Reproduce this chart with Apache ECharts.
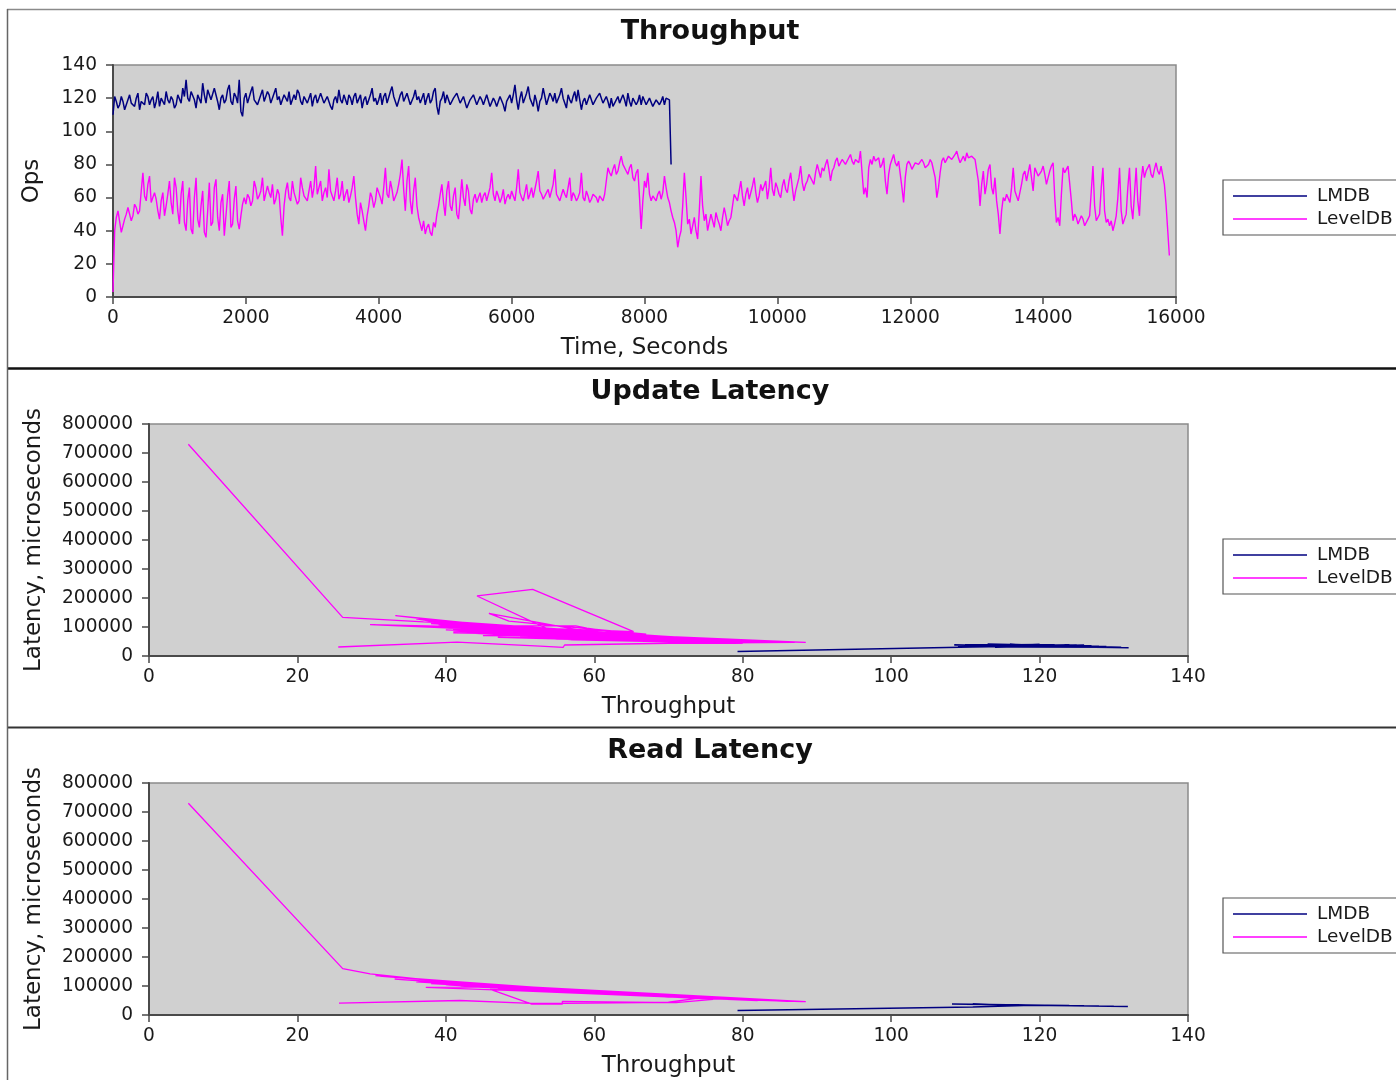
<!DOCTYPE html>
<html><head><meta charset="utf-8">
<script src="https://cdn.jsdelivr.net/npm/echarts@6/dist/echarts.min.js"></script>
<style>html,body{margin:0;padding:0;background:#fff;}#c{width:1396px;height:1080px;}</style>
</head><body><div id="c"></div>
<script>
// ---------- data ----------
const timeStep = 25; // seconds between throughput samples
const seriesNames = ['LMDB', 'LevelDB'];
const panelTitles = ['Throughput', 'Update Latency', 'Read Latency'];

// LMDB throughput (ops), t = 0 .. 8400 s
const lmdbOps = [
110,121,118,114,116,121,118,113,114,119,122,117,117,115,120,123,113,118,119,116,
123,121,116,119,121,114,118,124,115,120,120,116,124,119,117,121,119,114,116,122,
122,117,126,121,131,120,118,124,125,119,114,122,121,117,129,122,117,125,124,119,
120,126,127,118,113,120,122,117,119,125,128,118,116,123,121,117,131,112,109,120,
123,117,118,124,127,119,120,116,116,122,125,118,119,124,122,117,117,123,126,119,
121,116,115,122,120,118,124,116,117,122,119,125,123,118,116,121,121,117,118,123,
115,120,122,117,118,123,124,117,116,121,120,115,113,119,121,117,125,119,117,122,
119,116,122,120,116,121,123,117,118,122,114,119,121,116,117,122,126,118,120,116,
119,123,116,121,123,117,118,124,127,121,120,115,115,122,124,118,119,123,122,116,
117,121,125,119,121,117,118,123,116,120,123,117,119,124,126,115,110,118,120,124,
117,122,121,116,115,120,119,123,122,117,116,121,120,114,113,119,118,122,122,116,
115,121,119,116,117,122,121,115,114,120,118,115,116,121,120,116,112,118,119,122,
117,122,128,119,113,120,124,117,116,123,127,120,119,115,122,118,112,118,120,126,
125,116,117,123,121,118,123,117,116,122,126,120,119,114,122,119,117,121,124,118,
125,119,113,118,120,116,117,122,121,116,115,120,119,123,122,117,116,121,118,114,
120,115,114,119,121,117,117,122,119,115,123,118,115,120,120,116,118,122,116,121,
121,116,117,120,119,115,114,119,120,116,118,121,116,120,121,119,80
];

// LevelDB throughput (ops), t = 0 .. 15900 s
const leveldbOps = [
3,40,48,52,51,39,43,47,50,54,53,46,49,56,54,50,52,64,75,61,
58,68,73,57,60,63,59,52,47,58,63,49,55,62,70,57,50,72,66,52,
44,62,70,45,40,58,66,41,38,60,72,47,42,55,64,39,36,52,69,43,
45,66,71,48,40,57,62,37,38,61,70,42,44,59,67,46,41,49,56,60,
56,62,60,55,58,70,66,59,61,64,72,58,57,67,63,60,68,56,59,65,
62,48,37,55,64,69,60,58,70,63,62,56,58,72,66,61,61,58,64,70,
60,66,79,62,63,70,58,63,66,60,77,64,61,58,64,72,59,62,70,58,
62,65,57,61,66,73,60,50,44,57,52,46,40,49,55,63,60,54,58,66,
63,60,56,66,78,62,60,70,65,58,59,63,68,74,83,65,52,70,79,58,
50,64,72,55,48,44,40,46,38,42,44,39,37,45,42,50,55,62,68,57,
49,64,70,55,52,61,66,50,47,58,71,60,55,68,64,53,50,59,62,57,
60,63,57,61,63,58,59,66,75,62,58,64,61,57,60,65,56,60,62,59,
64,61,58,66,77,63,60,58,63,68,59,62,66,60,61,70,76,64,62,59,
58,63,65,60,60,68,77,62,63,58,59,65,62,60,66,72,58,63,61,58,
60,63,75,60,58,64,61,57,59,62,63,60,57,61,60,58,62,70,78,75,
73,77,80,74,76,81,85,80,79,76,74,78,80,72,70,75,77,60,41,58,
70,66,75,62,58,61,60,58,62,64,59,63,73,66,60,57,52,48,45,40,
30,36,40,55,75,60,44,47,38,43,48,40,35,52,73,55,46,50,40,45,
50,46,42,51,47,44,40,48,54,49,43,46,48,55,62,60,58,64,70,61,
55,62,66,59,60,67,72,63,57,61,68,64,63,70,59,66,78,65,61,69,
66,62,60,67,71,65,63,70,75,66,58,64,68,72,79,69,64,68,70,74,
73,70,68,75,80,76,72,78,76,80,83,77,70,76,78,82,84,79,80,83,
82,80,79,84,86,82,80,83,84,81,88,75,62,66,60,78,83,80,85,82,
81,84,78,80,84,70,62,74,80,83,86,81,79,82,83,66,57,72,80,82,
80,77,78,81,82,80,79,83,81,78,77,80,83,81,80,72,60,66,75,82,
84,81,82,85,86,83,83,86,88,84,81,83,85,82,87,84,83,85,86,83,
84,70,55,68,76,62,68,77,80,66,62,72,58,50,38,52,60,58,62,61,
57,66,78,64,61,58,59,68,74,76,70,75,80,72,64,78,77,73,72,76,
79,74,68,72,76,79,81,60,45,48,43,62,78,75,77,79,80,58,46,50,
48,44,45,49,47,43,44,47,49,64,79,55,46,48,50,66,78,52,45,47,
43,46,40,44,49,60,78,52,44,47,50,66,78,55,47,62,78,58,49,70,
79,72,76,78,80,74,72,77,81,76,74,79,80,68,56,56,25
];

// Update latency: [throughput, latency in microseconds], in time order
const updateLMDB = [
[110,36000],[124,33000],[112,38000],[128,31000],[115,35000],[120,40000],[109,37000],[126,34000],
[117,31000],[131,30000],[113,41000],[122,36000],[118,33000],[108.5,38000],[127,35000],[114,32000],
[121,39000],[125,31000],[111,34000],[129,33000],[116,40000],[123,32000],[119,36000],[130,29000],
[112,35000],[126,37000],[114,30000],[120,34000],[124,38000],[110,33000],[128,32000],[117,37000],
[122,30000],[115,39000],[132,28500],[113,36000],[119,31000],[125,35000],[118,38000],[111,39000],
[127,33000],[114,36000],[121,32000],[116,38000],[124,35000],[109,35000],[122,38000],[118,31000],
[126,32000],[113,34000],[129,31000],[115,37000],[123,36000],[112,33000],[120,37000],[117,34000],
[125,37000],[110,38000],[128,34000],[119,39000],[114,34000],[124,31000],[116,33000],[121,36000],
[113,38000],[123,34000],[117,39000],[127,32000],[112,37000],[120,33000],[115,33000],[125,33000],
[118,36000],[122,34000],[114,38000],[126,35000],[119,32000],[121,38000],[116,36000],[124,36000],
[111,31000],[111,27000],[79.3,15500]
];
const updateLevelDB = [
[5.3,730000],[26.1,133000],[37,118000],[45,108000],[40,96000],[52,92000],[38,112000],[60,82000],
[42,90000],[55,78000],[40,105000],[66,72000],[44,86000],[58,68000],[33.2,139000],[47,104000],
[62,76000],[41,80000],[70,66000],[46,96000],[39,120000],[64,70000],[43,99000],[53,84000],
[48,75000],[72,62000],[29.8,108000],[42,101000],[57,80000],[45,70000],[68,64000],[50,88000],
[40,112000],[61,72000],[44,94000],[76,58000],[49,82000],[56,66000],[41,117000],[59,85000],
[47,78000],[78,55000],[52,72000],[43,108000],[65,74000],[46,84000],[74,60000],[38,124000],
[51,96000],[63,66000],[45.8,147000],[48.5,120000],[67,75000],[54,90000],[44.2,207000],[51.7,230000],
[65.3,84000],[48,100000],[80,52000],[55,70000],[42,114000],[62,64000],[50,80000],[82,54000],
[58,76000],[46,90000],[70,58000],[53,68000],[84,50000],[60,78000],[44,104000],[57.5,104000],
[59,96000],[66,70000],[49,74000],[86,48000],[64,62000],[51,90000],[72,56000],[56,82000],
[88.5,47000],[68,60000],[47,86000],[75,54000],[61,68000],[80,46000],[54,64000],[44,78000],
[79,50000],[63,58000],[40,100000],[58,62000],[82,48000],[50,66000],[70,52000],[43,84000],
[66,56000],[48,70000],[76,50000],[55,58000],[45,88000],[62,54000],[84,46000],[52,62000],
[73,52000],[41,92000],[60,60000],[46,74000],[80,44000],[57,56000],[39,108000],[54,72000],
[69,56000],[47,64000],[65,52000],[36,128000],[44,96000],
[38,100000],[58,72000],[43,88000],[67,62000],[41,110000],[54,76000],[45,100000],[71,60000],
[40,90000],[60,70000],[47,92000],[78,52000],[42,106000],[56,72000],[44,80000],[63,64000],
[39,114000],[52,80000],[48,96000],[74,56000],[43,92000],[58,66000],[46,102000],[68,58000],
[41,86000],[55,76000],[50,92000],[81,50000],[45,82000],[62,70000],[40,108000],[57,68000],
[49,86000],[85,48000],[44,98000],[65,60000],[47,80000],[72,58000],[42,96000],[53,78000],
[72,55000],[87,47000],[70,44000],[56,38000],[55.8,30000],[52.7,34000],[41.5,48000],[25.5,31000]
];

// Read latency: [throughput, latency in microseconds], in time order
const readLMDB = [
[110,37000],[126,32000],[113,36000],[130,30000],[116,35000],[122,33000],[108.2,38000],[128,31000],
[118,34000],[124,33000],[112,36000],[131.9,29000],[115,35000],[120,34000],[111,37000],[127,31000],
[119,34000],[111,28000],[79.3,15500]
];
const readLevelDB = [
[5.3,730000],[26.1,160000],[29.8,142000],[44,104000],[33.1,124000],[52,93000],[30.5,136000],[60,80000],
[35,120000],[68,68000],[38,108000],[75,60000],[37.3,95000],[47,97000],[40,112000],[80,54000],
[42,100000],[64,74000],[36,118000],[88.5,46000],[45,96000],[70,66000],[40,104000],[58,80000],
[48,92000],[84,50000],[43,106000],[62,76000],[50,88000],[78,56000],[39,114000],[66,70000],
[31,134000],[56,83000],[34,122000],[64,71000],[36,114000],[72,61000],[39,108000],[80,52000],
[41,104000],[86,47000],[43,98000],[60,76000],[45,98000],[68,64000],[47,92000],[76,56000],
[49,94000],[84,50000],[51,88000],[58,78000],[53,90000],[62,74000],[40,110000],[70,62000],
[44,104000],[78,54000],[48,90000],[66,68000],[37,116000],[74,58000],[42,102000],[82,50000],
[46,88000],[51.5,38000],[55.7,38000],[55.7,47000],[71,43000],[76,54000],[54,86000],[82,52000],
[44,100000],[72,62000],[49,96000],[86,48000],[57,82000],[41,108000],[68,66000],[52,90000],
[80,55000],[47,94000],[63,72000],[38,116000],[74,60000],[55,84000],[42,104000],[66,68000],
[46,96000],[64,70000],[50,92000],[88,46000],
[73.8,57000],[70,44000],[56,40000],[51.5,40000],[41.9,50000],[25.6,41000]
];

// ---------- chart ----------
const FONT = '"DejaVu Sans", sans-serif';
const COLORS = {LMDB: '#000080', LevelDB: '#ff00ff'};
const TXT = '#1a1a1a';

const lmdbSeries = lmdbOps.map((v, i) => [i * timeStep, v]);
const leveldbSeries = leveldbOps.map((v, i) => [i * timeStep, v]);

function axis(gridIndex, min, max, interval, name, nameGap, isY) {
  return {
    type: 'value', gridIndex, min, max, interval,
    name, nameLocation: 'middle', nameGap,
    nameTextStyle: {fontSize: 23, color: TXT, fontFamily: FONT},
    axisLine: {show: true, onZero: false, lineStyle: {color: '#4a4a4a', width: 2}},
    axisTick: {show: true, inside: false, length: 7, lineStyle: {color: '#4a4a4a', width: 1.5}},
    axisLabel: {fontSize: 18.6, color: TXT, fontFamily: FONT, margin: isY ? 16 : 12,
                formatter: v => String(v)},
    splitLine: {show: false}
  };
}

const grids = [
  {left: 113, top: 65, width: 1063, height: 232},
  {left: 149, top: 424, width: 1039, height: 232},
  {left: 149, top: 783, width: 1039, height: 232}
].map(g => Object.assign(g, {show: true, backgroundColor: '#d0d0d0', borderColor: '#8a8a8a', borderWidth: 1.5}));

function lineSeries(name, idx, data, width) {
  return {
    type: 'line', name, xAxisIndex: idx, yAxisIndex: idx, data,
    symbol: 'none', showSymbol: false, animation: false, sampling: undefined,
    lineStyle: {color: COLORS[name], width}, itemStyle: {color: COLORS[name]}
  };
}

const legendTops = [180, 539, 898];
const titleYs = [32, 392, 751];

const option = {
  animation: false,
  grid: grids,
  xAxis: [
    axis(0, 0, 16000, 2000, 'Time, Seconds', 40, false),
    axis(1, 0, 140, 20, 'Throughput', 40, false),
    axis(2, 0, 140, 20, 'Throughput', 40, false)
  ],
  yAxis: [
    axis(0, 0, 140, 20, 'Ops', 69, true),
    axis(1, 0, 800000, 100000, 'Latency, microseconds', 103, true),
    axis(2, 0, 800000, 100000, 'Latency, microseconds', 103, true)
  ],
  legend: legendTops.map(t => ({
    data: seriesNames, orient: 'vertical', left: 1223, top: t,
    selectedMode: false, icon: 'rect', itemWidth: 74, itemHeight: 1.5, itemGap: 3,
    padding: [6, 40, 6, 10],
    borderColor: '#555', borderWidth: 1.2, backgroundColor: '#fff',
    textStyle: {fontSize: 18.5, color: TXT, fontFamily: FONT, padding: [0, 0, 0, 5], lineHeight: 20}
  })),
  series: [
    lineSeries('LMDB', 0, lmdbSeries, 1.5),
    lineSeries('LevelDB', 0, leveldbSeries, 1.4),
    lineSeries('LevelDB', 1, updateLevelDB, 1.3),
    lineSeries('LMDB', 1, updateLMDB, 1.5),
    lineSeries('LevelDB', 2, readLevelDB, 1.3),
    lineSeries('LMDB', 2, readLMDB, 1.5)
  ],
  graphic: [
    {type: 'line', shape: {x1: 7, y1: 9.5, x2: 1396, y2: 9.5}, style: {stroke: '#8a8a8a', lineWidth: 1.5}},
    {type: 'line', shape: {x1: 7, y1: 368.5, x2: 1396, y2: 368.5}, style: {stroke: '#111', lineWidth: 2.5}},
    {type: 'line', shape: {x1: 7, y1: 727.5, x2: 1396, y2: 727.5}, style: {stroke: '#333', lineWidth: 2}},
    {type: 'line', shape: {x1: 7.5, y1: 9, x2: 7.5, y2: 1080}, style: {stroke: '#666', lineWidth: 1.5}}
  ].concat(panelTitles.map((t, i) => ({
    type: 'text', x: 710, y: titleYs[i],
    style: {text: t, textAlign: 'center', textVerticalAlign: 'middle',
            font: 'bold 27px ' + FONT, fill: '#111'}
  })))
};

const chart = echarts.init(document.getElementById('c'), null, {renderer: 'canvas'});
chart.setOption(option);
</script>
</body></html>
